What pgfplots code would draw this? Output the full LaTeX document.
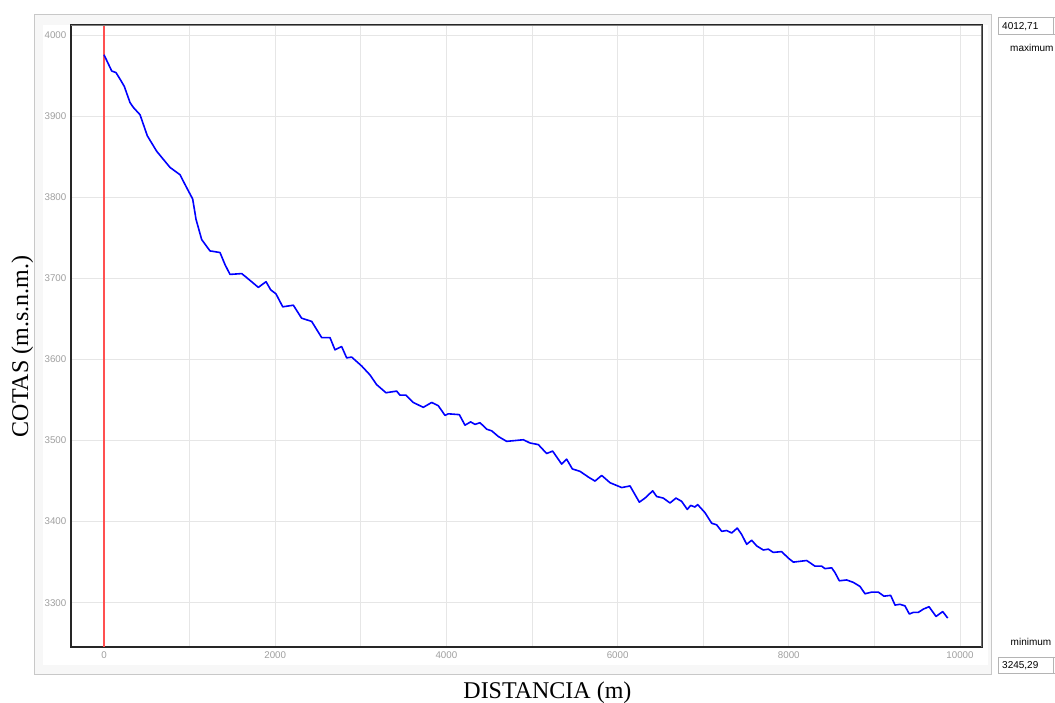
\documentclass[border=0pt]{standalone}
\usepackage{fontspec}
\setmainfont{Liberation Serif}
\newfontfamily\uisans{Liberation Sans}
\usepackage{pgfplots}
\pgfplotsset{compat=1.18}

\definecolor{framegray}{HTML}{C8C8C8}
\definecolor{panelgray}{HTML}{F7F7F7}
\definecolor{gridgray}{HTML}{E6E6E6}
\definecolor{labelgray}{HTML}{A0A0A0}
\definecolor{topgray}{HTML}{808080}
\definecolor{rightgray}{HTML}{707070}
\definecolor{boxgray}{HTML}{B4B4B4}
\definecolor{redline}{HTML}{FF5050}

\begin{document}
\begin{tikzpicture}[x=1pt,y=1pt]
\useasboundingbox (0,0) rectangle (1055,702);
% panel frame
\filldraw[fill=panelgray, draw=framegray, line width=1pt] (34,687) rectangle (991,28);
\fill[white] (43,677) rectangle (988,37);

\begin{axis}[
    at={(71pt,55pt)}, anchor=south west,
    scale only axis, width=911pt, height=622pt,
    xmin=-385.5, xmax=10257,
    ymin=3245.29, ymax=4012.71,
    axis background/.style={fill=white},
    xtick={0,2000,...,10000},
    minor xtick={1000,3000,...,9000},
    ytick={3300,3400,...,4000},
    grid=both,
    major grid style={gridgray, line width=1pt},
    minor grid style={gridgray, line width=1pt},
    major tick length=0pt, minor tick length=0pt,
    axis line style={line width=1.2pt, black!85},
    scaled ticks=false,
    /pgf/number format/1000 sep={},
    /pgf/number format/assume math mode=true,
    tick label style={font=\uisans\fontsize{9.75}{11}\selectfont, text=labelgray},
    xticklabel style={anchor=north, inner sep=0pt, yshift=-4pt},
    yticklabel style={anchor=east, inner sep=0pt, xshift=-4.5pt},
    xlabel={DISTANCIA (m)},
    xlabel style={at={(rel axis cs:0.523,-0.082)}, anchor=base, inner sep=0pt,
        font=\fontsize{24}{28}\selectfont},
    ylabel={COTAS (m.s.n.m.)},
    ylabel style={at={(rel axis cs:-0.0472,0.483)}, anchor=base, inner sep=0pt,
        font=\fontsize{24}{28}\selectfont},
]
\addplot[redline, line width=1.3pt] coordinates {(0,3245.29) (0,4012.71)};

\addplot[blue, line width=1.6pt, line join=round] coordinates {
(0,3976) (90,3956) (140,3954) (187,3946) (237,3937) (304,3917) (343,3911)
(421,3902) (506,3876) (615,3857) (771,3837) (888,3828) (946,3816) (1036,3798)
(1075,3773) (1141,3748) (1238,3734) (1355,3732) (1414,3717) (1472,3705)
(1609,3706) (1667,3701) (1803,3689) (1893,3696) (1947,3686) (2009,3681)
(2088,3665) (2212,3667) (2308,3651) (2426,3647) (2543,3627) (2640,3627)
(2698,3612) (2776,3616) (2835,3602) (2893,3603) (3010,3592) (3107,3581)
(3185,3569) (3294,3559) (3419,3561) (3458,3556) (3528,3556) (3613,3547)
(3730,3541) (3828,3547) (3905,3543) (3984,3531) (4022,3533) (4151,3532)
(4217,3519) (4283,3523) (4334,3520) (4393,3522) (4471,3514) (4529,3512)
(4607,3505) (4704,3499) (4801,3500) (4899,3501) (4977,3497) (5074,3495)
(5171,3484) (5241,3487) (5346,3471) (5405,3477) (5471,3465) (5561,3462)
(5658,3455) (5736,3450) (5814,3457) (5911,3448) (6048,3442) (6145,3444)
(6254,3424) (6320,3429) (6410,3438) (6456,3431) (6534,3429) (6612,3423)
(6682,3429) (6748,3425) (6814,3415) (6853,3420) (6904,3418) (6935,3421)
(7021,3411) (7099,3398) (7157,3396) (7216,3388) (7274,3389) (7333,3386)
(7398,3392) (7450,3384) (7508,3372) (7566,3377) (7625,3370) (7702,3365)
(7761,3366) (7819,3362) (7916,3363) (7994,3355) (8053,3350) (8131,3351)
(8209,3352) (8306,3345) (8384,3345) (8423,3342) (8501,3343) (8540,3337)
(8590,3327) (8676,3328) (8754,3325) (8832,3320) (8890,3311) (8968,3313)
(9046,3313) (9112,3308) (9190,3309) (9241,3297) (9299,3298) (9357,3296)
(9408,3286) (9455,3288) (9513,3288) (9571,3292) (9638,3295) (9720,3283)
(9798,3289) (9856,3281)
};

\draw[topgray, line width=2pt] (rel axis cs:0,1) -- (rel axis cs:1,1);
\draw[rightgray, line width=1.4pt] (rel axis cs:1,0) -- (rel axis cs:1,1);
\end{axis}

% right-hand value boxes
\draw[boxgray, fill=white] (998,684.3) rectangle (1062,667.7);
\draw[boxgray] (1052.7,684.3) -- (1052.7,667.7);
\node[anchor=base west, inner sep=0pt, font=\uisans\fontsize{10}{12}\selectfont] at (1002,672.5) {4012,71};
\node[anchor=base west, inner sep=0pt, font=\uisans\fontsize{10}{12}\selectfont] at (1010,650.4) {maximum};
\node[anchor=base west, inner sep=0pt, font=\uisans\fontsize{10}{12}\selectfont] at (1010.5,56.7) {minimum};
\draw[boxgray, fill=white] (998,45.3) rectangle (1062,29.3);
\draw[boxgray] (1052.7,45.3) -- (1052.7,29.3);
\node[anchor=base west, inner sep=0pt, font=\uisans\fontsize{10}{12}\selectfont] at (1002,33.8) {3245,29};
\end{tikzpicture}
\end{document}
